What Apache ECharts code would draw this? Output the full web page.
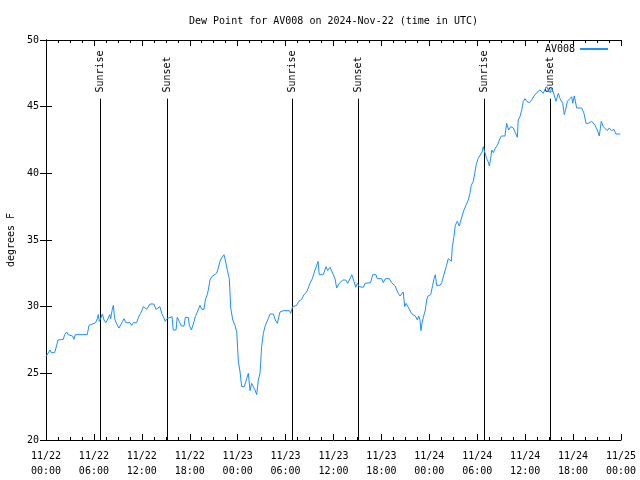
<!DOCTYPE html>
<html><head><meta charset="utf-8">
<script src="https://cdn.jsdelivr.net/npm/echarts@6/dist/echarts.min.js"></script>
<style>html,body{margin:0;padding:0;background:#fff}#c{width:640px;height:480px}</style>
</head><body><div id="c"></div>
<script>
// minutes since 2024-11-22 00:00 UTC, dew point (F)
const day1 = [[0,26.25],[15,26.5],[30,26.75],[40,26.55],[65,26.55],[75,26.9],[90,27.5],[130,27.55],[140,27.9],[155,28.1],[165,27.9],[200,27.8],[210,27.55],[220,27.9],[310,27.9],[323,28.6],[330,28.75],[373,28.8],[385,29.1],[393,29.4],[400,28.9],[411,29.1],[423,29.45],[436,29.0],[449,28.8],[461,29.0],[479,29.4],[486,29.1],[498,29.8],[506,30.1],[516,29.1],[531,28.7],[548,28.4],[561,28.5],[576,28.9],[586,29.1],[599,28.8],[631,28.8],[644,28.6],[656,28.8],[681,28.8],[691,29.1],[704,29.4],[716,29.6],[731,30.0],[742,30.1],[757,29.8],[766,29.9],[781,30.2],[811,30.2],[826,29.8],[841,29.8],[856,30.0],[869,29.5],[881,29.25],[896,28.9],[907,29.1],[911,29.25],[947,29.25],[956,28.25],[977,28.25],[986,29.2],[1001,28.9],[1017,28.55],[1037,28.55],[1047,29.2],[1069,29.2],[1077,28.6],[1092,28.25],[1107,28.7],[1122,29.25],[1137,29.6],[1157,30.1],[1170,29.8],[1187,29.8],[1197,30.5],[1212,30.9],[1222,31.4],[1232,32.0],[1245,32.25],[1257,32.4],[1282,32.5],[1295,32.9],[1307,33.4],[1322,33.7],[1337,33.9],[1347,33.5],[1362,32.75],[1377,32.1],[1388,29.9],[1403,29.0],[1420,28.6],[1433,28.1]];
const day2 = [[1445,25.9],[1458,25.1],[1470,24.0],[1490,24.0],[1508,24.6],[1520,25.0],[1533,23.7],[1545,24.25],[1557,24.4],[1570,23.75],[1583,23.4],[1595,24.5],[1608,25.0],[1620,27.0],[1633,28.0],[1648,28.6],[1670,29.1],[1683,29.45],[1708,29.45],[1723,29.0],[1738,28.75],[1758,29.6],[1783,29.7],[1828,29.7],[1838,29.5],[1853,30.0],[1884,30.1],[1899,30.4],[1921,30.55],[1938,30.9],[1959,31.1],[1983,31.75],[2001,32.1],[2021,32.75],[2034,33.1],[2044,33.4],[2053,32.4],[2083,32.4],[2104,33.0],[2116,32.7],[2134,32.95],[2154,32.5],[2171,32.1],[2184,31.4],[2204,31.75],[2229,32.0],[2252,32.0],[2267,31.75],[2284,32.1],[2297,32.4],[2314,31.9],[2327,31.45],[2339,31.75],[2354,31.5],[2384,31.45],[2397,31.75],[2439,31.8],[2454,32.4],[2479,32.4],[2489,32.1],[2522,32.1],[2534,31.8],[2549,32.1],[2579,32.1],[2596,31.8],[2609,31.75],[2624,31.55],[2635,31.25],[2647,31.0],[2660,30.8],[2675,30.8],[2684,31.1],[2695,30.0],[2705,30.25],[2714,30.3],[2725,29.9],[2740,29.6],[2755,29.4],[2775,29.3],[2790,29.0],[2800,29.3],[2810,29.0],[2817,28.2],[2825,28.75],[2835,29.2],[2850,29.75],[2860,30.5],[2870,30.8]];
const day3 = [[2890,30.9],[2905,31.6],[2915,32.1],[2925,32.4],[2935,31.6],[2960,31.6],[2973,31.8],[2985,31.8],[2995,32.6],[3010,33.1],[3022,33.6],[3035,33.5],[3045,33.4],[3053,34.5],[3065,35.25],[3075,36.1],[3090,36.4],[3105,36.05],[3120,36.1],[3135,37.1],[3155,37.6],[3173,38.0],[3185,38.5],[3195,39.1],[3210,39.4],[3221,40.0],[3231,40.6],[3246,41.1],[3261,41.25],[3276,41.6],[3285,42.0],[3296,41.6],[3311,41.1],[3321,40.9],[3331,40.55],[3341,41.1],[3349,41.75],[3361,41.55],[3376,41.9],[3391,42.1],[3406,42.5],[3421,42.8],[3448,42.8],[3461,43.75],[3476,43.25],[3491,43.5],[3511,43.4],[3524,43.1],[3541,42.7],[3548,44.0],[3561,44.25],[3574,44.75],[3586,45.4],[3599,45.6],[3611,45.4],[3631,45.3],[3649,45.5],[3666,45.8],[3687,46.05],[3711,46.25],[3724,46.25],[3736,46.0],[3749,46.3],[3762,46.5],[3774,46.25],[3787,46.05],[3799,46.4],[3811,46.1],[3832,45.4],[3849,46.0],[3862,45.6],[3874,45.75],[3882,45.25],[3894,44.4],[3907,44.9],[3917,45.4],[3932,45.55],[3950,45.75],[3957,45.25],[3969,45.8],[3987,44.9],[4025,44.9],[4042,44.5],[4057,43.75],[4074,43.75],[4100,43.9],[4125,43.6],[4142,43.25],[4157,42.8],[4172,43.9],[4187,43.5],[4202,43.6],[4217,43.2],[4232,43.4],[4250,43.2],[4267,43.3],[4282,42.95],[4315,42.95]];

// sun events, minutes since start
const sunNames = ['Sunrise','Sunset','Sunrise','Sunset','Sunrise','Sunset'];
const sunTimes = [409.5, 912.8, 1852, 2347.8, 3294.5, 3790.3];
const sunLineTop = 45.6;

const tickDates = ['11/22','11/22','11/22','11/22','11/23','11/23','11/23','11/23','11/24','11/24','11/24','11/24','11/25'];
const tickTimes = ['00:00','06:00','12:00','18:00','00:00','06:00','12:00','18:00','00:00','06:00','12:00','18:00','00:00'];
const yMin = 20, yMax = 50, yStep = 5;

const FONT = 'DejaVu Sans Mono';
const dew = day1.concat(day2, day3).map(p => [p[0] / 60, p[1]]);

const series = [{
  name: 'AV008', type: 'line', data: dew, showSymbol: false, symbol: 'none',
  lineStyle: { color: '#1e8fff', width: 1 }, itemStyle: { color: '#1e8fff' },
  animation: false, z: 3
}];
sunTimes.forEach((t, i) => {
  series.push({
    type: 'line', silent: true, symbol: 'circle', symbolSize: 0.1, showSymbol: true,
    animation: false, z: 2,
    itemStyle: { color: '#000', opacity: 0 },
    lineStyle: { color: '#000', width: 1 },
    data: [[t / 60, yMin], { value: [t / 60, sunLineTop],
      label: { show: true, formatter: sunNames[i], position: 'top', distance: 6,
        rotate: 90, align: 'left', verticalAlign: 'middle',
        fontFamily: FONT, fontSize: 10, color: '#000', opacity: 1 } }]
  });
});

const axisCommon = {
  type: 'value', min: 0, max: 72, interval: 6,
  axisLine: { show: true, lineStyle: { color: '#000', width: 1 } },
  axisTick: { show: true, inside: true, length: 6, lineStyle: { color: '#000' } },
  minorTick: { show: true, splitNumber: 4, length: 3, lineStyle: { color: '#000' } },
  splitLine: { show: false }
};

const chart = echarts.init(document.getElementById('c'), null, { renderer: 'canvas' });
chart.setOption({
  backgroundColor: '#fff',
  animation: false,
  textStyle: { fontFamily: FONT },
  title: { text: 'Dew Point for AV008 on 2024-Nov-22 (time in UTC)', left: 184, top: 11,
    textStyle: { fontFamily: FONT, fontSize: 10, fontWeight: 'normal', color: '#000' } },
  legend: { show: true, data: ['AV008'], right: 26, top: 39, align: 'right', itemWidth: 28, itemHeight: 2, itemGap: 5,
    textStyle: { fontFamily: FONT, fontSize: 10, color: '#000' } },
  grid: { left: 46, right: 19, top: 40, bottom: 40, containLabel: false, outerBoundsMode: 'none' },
  xAxis: [
    Object.assign({}, axisCommon, { position: 'bottom',
      axisLabel: { margin: 9, fontFamily: FONT, fontSize: 10, color: '#000', lineHeight: 15,
        formatter: v => { const i = Math.round(v / 6); return tickDates[i] + '\n' + tickTimes[i]; } } }),
    Object.assign({}, axisCommon, { position: 'top', axisLabel: { show: false } })
  ],
  yAxis: [
    { type: 'value', min: yMin, max: yMax, interval: yStep, position: 'left',
      name: 'degrees F', nameLocation: 'middle', nameGap: 30, nameRotate: 90,
      nameTextStyle: { fontFamily: FONT, fontSize: 10, color: '#000' },
      axisLine: { show: true, lineStyle: { color: '#000' } },
      axisTick: { show: true, inside: true, length: 6, lineStyle: { color: '#000' } },
      axisLabel: { margin: 7, fontFamily: FONT, fontSize: 10, color: '#000' },
      splitLine: { show: false } },
    { type: 'value', min: yMin, max: yMax, interval: yStep, position: 'right',
      axisLine: { show: true, lineStyle: { color: '#000' } },
      axisTick: { show: true, inside: true, length: 6, lineStyle: { color: '#000' } },
      axisLabel: { show: false }, splitLine: { show: false } }
  ],
  series: series
});
</script></body></html>
